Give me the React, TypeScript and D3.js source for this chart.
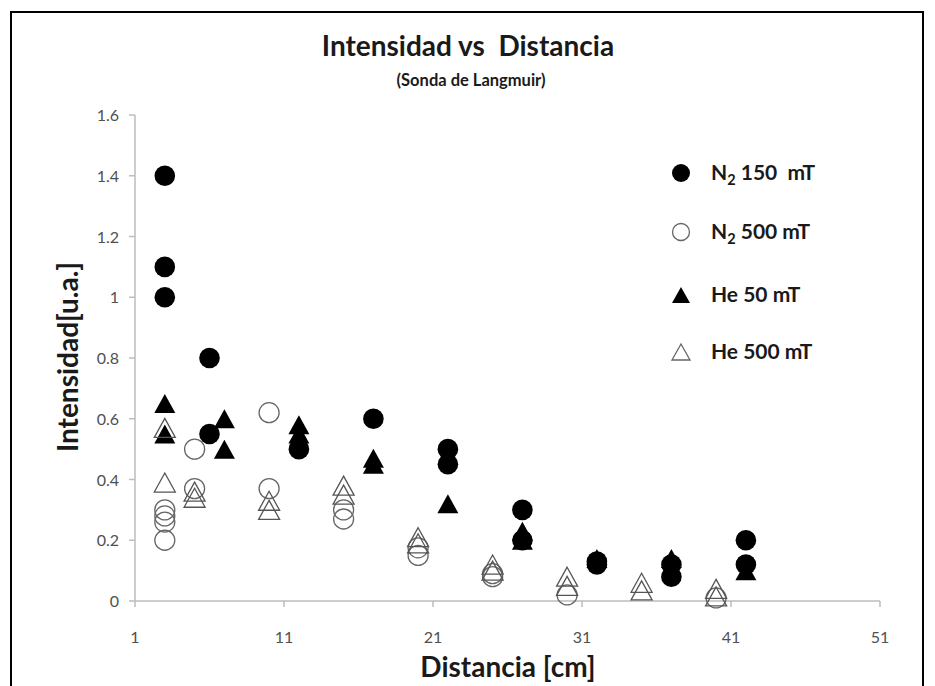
import React from "react";
import * as d3 from "d3";

const xTicks = [1, 11, 21, 31, 41, 51];
const yTicks = [0, 0.2, 0.4, 0.6, 0.8, 1, 1.2, 1.4, 1.6];

const n2_150_x = [3, 3, 3, 6, 6, 12, 17, 22, 22, 27, 27, 32, 32, 37, 37, 42, 42];
const n2_150_y = [1.4, 1.1, 1.0, 0.8, 0.55, 0.5, 0.6, 0.5, 0.45, 0.3, 0.2, 0.13, 0.12, 0.12, 0.08, 0.2, 0.12];

const n2_500_x = [3, 3, 3, 3, 5, 5, 10, 10, 15, 15, 20, 20, 25, 25, 30, 40];
const n2_500_y = [0.3, 0.28, 0.26, 0.2, 0.5, 0.37, 0.62, 0.37, 0.3, 0.27, 0.175, 0.15, 0.09, 0.08, 0.02, 0.01];

const he_50_x = [3, 3, 7, 7, 12, 12, 17, 17, 22, 27, 27, 32, 37, 42];
const he_50_y = [0.65, 0.55, 0.6, 0.5, 0.58, 0.55, 0.47, 0.45, 0.32, 0.23, 0.2, 0.14, 0.14, 0.1];

const he_500_x = [3, 3, 5, 5, 10, 10, 15, 15, 20, 20, 25, 25, 30, 30, 35, 35, 40, 40];
const he_500_y = [0.57, 0.39, 0.36, 0.34, 0.33, 0.3, 0.38, 0.35, 0.21, 0.19, 0.12, 0.1, 0.08, 0.05, 0.06, 0.035, 0.04, 0.015];

const W = 935;
const H = 686;
const FONT = "Lato, 'Open Sans', sans-serif";

function tri(cx: number, cy: number, w: number, h: number) {
  return `M${cx},${cy - h / 2}L${cx + w / 2},${cy + h / 2}L${cx - w / 2},${cy + h / 2}Z`;
}

export default function App() {
  const x = d3.scaleLinear().domain([1, 51]).range([135, 880]);
  const y = d3.scaleLinear().domain([0, 1.6]).range([601, 115]);
  const axisColor = "#bdbdbd";
  const tickText = "#505050";
  const dark = "#1a1a1a";

  const legend = [
    { kind: "fc", label: ["N", "2", " 150  mT"] },
    { kind: "oc", label: ["N", "2", " 500 mT"] },
    { kind: "ft", label: ["He 50 mT"] },
    { kind: "ot", label: ["He 500 mT"] },
  ];
  const legendY = [173, 232, 295, 352];

  return (
    <svg width={W} height={H} style={{ position: "absolute", left: 0, top: 0, background: "#fff" }}>
      <rect x={0} y={0} width={W} height={H} fill="#fff" />
      <rect x={11} y={12} width={912} height={700} fill="none" stroke="#000" strokeWidth={2} />

      <text x={468} y={56} textAnchor="middle" fontFamily={FONT} fontWeight="bold" fontSize={28} fill={dark} style={{ whiteSpace: "pre" }}>
        Intensidad vs  Distancia
      </text>
      <text x={471} y={86} textAnchor="middle" fontFamily={FONT} fontWeight="bold" fontSize={16.5} fill={dark}>
        (Sonda de Langmuir)
      </text>

      {/* axes */}
      <line x1={x(1)} x2={x(1)} y1={y(1.6)} y2={y(0)} stroke={axisColor} strokeWidth={1.5} />
      <line x1={x(1)} x2={x(51)} y1={y(0)} y2={y(0)} stroke={axisColor} strokeWidth={1.5} />
      {yTicks.map((t) => (
        <g key={"y" + t}>
          <line x1={x(1) - 6} x2={x(1)} y1={y(t)} y2={y(t)} stroke={axisColor} strokeWidth={1.5} />
          <text x={x(1) - 16} y={y(t) + 6} textAnchor="end" fontFamily={FONT} fontSize={16} fill={tickText}>
            {String(t)}
          </text>
        </g>
      ))}
      {xTicks.map((t) => (
        <g key={"x" + t}>
          <line x1={x(t)} x2={x(t)} y1={y(0)} y2={y(0) + 6} stroke={axisColor} strokeWidth={1.5} />
          <text x={x(t)} y={y(0) + 42} textAnchor="middle" fontFamily={FONT} fontSize={16} fill={tickText}>
            {String(t)}
          </text>
        </g>
      ))}

      <text x={508} y={677} textAnchor="middle" fontFamily={FONT} fontWeight="bold" fontSize={28} fill={dark}>
        Distancia [cm]
      </text>
      <text
        transform={`translate(78,357) rotate(-90)`}
        textAnchor="middle"
        fontFamily={FONT}
        fontWeight="bold"
        fontSize={28}
        fill={dark}
      >
        Intensidad[u.a.]
      </text>

      {/* series */}
      {n2_150_x.map((v, i) => (
        <circle key={"a" + i} cx={x(v)} cy={y(n2_150_y[i])} r={10.3} fill="#000" />
      ))}
      {n2_500_x.map((v, i) => (
        <circle key={"b" + i} cx={x(v)} cy={y(n2_500_y[i])} r={10} fill="none" stroke="#666" strokeWidth={1.3} />
      ))}
      {he_50_x.map((v, i) => (
        <path key={"c" + i} d={tri(x(v), y(he_50_y[i]), 21, 19)} fill="#000" />
      ))}
      {he_500_x.map((v, i) => (
        <path key={"d" + i} d={tri(x(v), y(he_500_y[i]), 21, 19)} fill="none" stroke="#555" strokeWidth={1.3} />
      ))}

      {/* legend */}
      {legend.map((l, i) => {
        const cy = legendY[i];
        const cx = 681;
        let marker;
        if (l.kind === "fc") marker = <circle cx={cx} cy={cy} r={9} fill="#000" />;
        else if (l.kind === "oc") marker = <circle cx={cx} cy={cy} r={8.5} fill="none" stroke="#666" strokeWidth={1.3} />;
        else if (l.kind === "ft") marker = <path d={tri(cx, cy, 18, 16)} fill="#000" />;
        else marker = <path d={tri(cx, cy, 18, 16)} fill="none" stroke="#666" strokeWidth={1.3} />;
        return (
          <g key={"l" + i}>
            {marker}
            <text x={711} y={cy + 7} fontFamily={FONT} fontWeight="bold" fontSize={21} fill={dark} style={{ whiteSpace: "pre" }}>
              {l.label.length === 3 ? (
                <>
                  <tspan>{l.label[0]}</tspan>
                  <tspan dy={5} fontSize={14.5}>{l.label[1]}</tspan>
                  <tspan dy={-5}>{l.label[2]}</tspan>
                </>
              ) : (
                l.label[0]
              )}
            </text>
          </g>
        );
      })}
    </svg>
  );
}
